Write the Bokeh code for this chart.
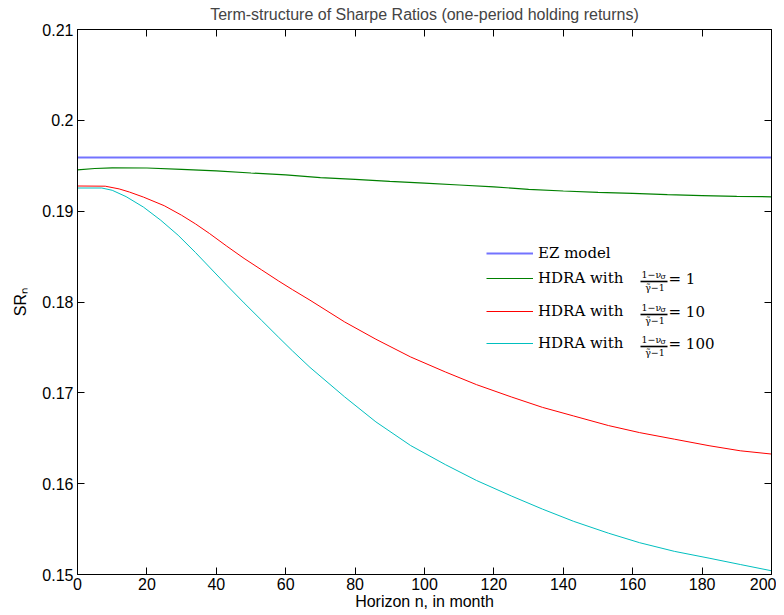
from bokeh.plotting import figure
from bokeh.models import (LinearAxis, FixedTicker, NumeralTickFormatter, Legend,
                          LegendItem, Label, BoxAnnotation, Range1d)
from bokeh.embed import file_html
from bokeh.resources import INLINE

# ---------------- data ----------------
title_text = "Term-structure of Sharpe Ratios (one-period holding returns)"
x_label = "Horizon n, in month"
y_label = "SR\u2099"
x_ticks = [0, 20, 40, 60, 80, 100, 120, 140, 160, 180, 200]
y_ticks = [0.15, 0.16, 0.17, 0.18, 0.19, 0.20, 0.21]

ez_n = [0, 200]
ez_sr = [0.1959, 0.1959]

hdra1_n = [0, 5, 10, 20, 30, 40, 50, 60, 70, 80, 90, 100, 110, 120, 130,
           140, 150, 160, 170, 180, 190, 200]
hdra1_sr = [0.19455, 0.19470, 0.19476, 0.19475, 0.19460, 0.19444, 0.19420,
            0.19400, 0.19370, 0.19350, 0.19328, 0.19308, 0.19288, 0.19268,
            0.19240, 0.19222, 0.19207, 0.19195, 0.19182, 0.19172, 0.19163,
            0.19158]

hdra10_n = [0, 8, 12, 15, 19, 25, 30, 34, 38, 43, 48, 53, 58, 62, 67, 77, 86,
            96, 106, 115, 125, 134, 143, 153, 162, 172, 182, 191, 200]
hdra10_sr = [0.19277, 0.19275, 0.19245, 0.19210, 0.19155, 0.19060, 0.18955,
             0.18860, 0.18755, 0.18615, 0.18480, 0.18355, 0.18230, 0.18135,
             0.18020, 0.17780, 0.17590, 0.17395, 0.17230, 0.17090, 0.16955,
             0.16840, 0.16745, 0.16640, 0.16562, 0.16490, 0.16418, 0.16362,
             0.16326]

hdra100_n = [0, 7, 10, 14, 19, 24, 29, 34, 38, 43, 48, 53, 58, 62, 67, 77, 86,
             96, 106, 115, 125, 134, 143, 153, 162, 172, 182, 191, 200]
hdra100_sr = [0.19255, 0.19255, 0.19230, 0.19160, 0.19045, 0.18900, 0.18735,
              0.18545, 0.18385, 0.18185, 0.17990, 0.17800, 0.17610, 0.17460,
              0.17280, 0.16955, 0.16680, 0.16420, 0.16210, 0.16035, 0.15865,
              0.15720, 0.15585, 0.15455, 0.15350, 0.15255, 0.15180, 0.15110,
              0.15041]

legend_labels = ["EZ model", "HDRA with", "HDRA with", "HDRA with"]
legend_values = ["= 1", "= 10", "= 100"]

# ---------------- layout ----------------
FRAME_W, FRAME_H = 694, 545
BORDER_L, BORDER_T, BORDER_B = 77, 29, 40
X0, X1 = 0, 200
Y0, Y1 = 0.15, 0.21

sans = "Liberation Sans"
serif = "DejaVu Serif"

p = figure(frame_width=FRAME_W, frame_height=FRAME_H,
           x_range=Range1d(X0, X1), y_range=Range1d(Y0, Y1),
           output_backend="svg", toolbar_location=None,
           min_border_left=BORDER_L, min_border_right=5,
           min_border_top=BORDER_T, min_border_bottom=BORDER_B,
           title=title_text, background_fill_color="white",
           border_fill_color="white", outline_line_color="black")

p.title.align = "center"
p.title.vertical_align = "top"
p.title.text_font = sans
p.title.text_font_style = "normal"
p.title.text_font_size = "16px"
p.title.standoff = 9
p.title.offset = 0

p.xgrid.visible = False
p.ygrid.visible = False

for ax in [p.xaxis[0], p.yaxis[0]]:
    ax.major_tick_in = 7
    ax.major_tick_out = 0
    ax.minor_tick_in = 0
    ax.minor_tick_out = 0
    ax.axis_line_color = "black"
    ax.major_tick_line_color = "black"
    ax.major_label_text_font = sans
    ax.major_label_text_font_size = "16px"
    ax.major_label_text_color = "black"
    ax.axis_label_text_font = sans
    ax.axis_label_text_font_size = "16px"
    ax.axis_label_text_font_style = "normal"
    ax.axis_label_text_color = "black"

p.xaxis[0].ticker = FixedTicker(ticks=x_ticks)
p.yaxis[0].ticker = FixedTicker(ticks=y_ticks)
p.yaxis[0].formatter = NumeralTickFormatter(format="0.[00]")
p.xaxis[0].axis_label = x_label
p.yaxis[0].axis_label = y_label
p.xaxis[0].major_label_standoff = 3
p.xaxis[0].axis_label_standoff = 0
p.yaxis[0].major_label_standoff = 4
p.yaxis[0].axis_label_standoff = 10

for side, ticks in [("right", y_ticks), ("above", x_ticks)]:
    ax = LinearAxis(ticker=FixedTicker(ticks=ticks), major_tick_in=7,
                    major_tick_out=0, minor_tick_in=0, minor_tick_out=0,
                    major_label_text_font_size="0px",
                    major_label_text_color=None, major_label_standoff=0,
                    axis_line_color="black", major_tick_line_color="black")
    p.add_layout(ax, side)

r_ez = p.line(ez_n, ez_sr, line_color="#0000ff", line_alpha=0.55, line_width=2)
r_1 = p.line(hdra1_n, hdra1_sr, line_color="#008000", line_width=1.2)
r_10 = p.line(hdra10_n, hdra10_sr, line_color="#ff0000", line_width=1)
r_100 = p.line(hdra100_n, hdra100_sr, line_color="#00bfbf", line_width=1)

# ---------------- legend (no box, MATLAB style) ----------------
# row centres measured from frame top, in pixels
row_centres = [224, 249, 282, 314]
LEG_X = 409
renderers = [r_ez, r_1, r_10, r_100]
for lab, rend, rc in zip(legend_labels, renderers, row_centres):
    leg = Legend(items=[LegendItem(label=lab, renderers=[rend])],
                 location=(LEG_X, FRAME_H - rc - 10), padding=0, margin=0,
                 spacing=0, glyph_width=47, glyph_height=20, label_height=20,
                 label_standoff=5, border_line_color=None,
                 background_fill_alpha=0, label_text_font=serif,
                 label_text_font_size="15px", label_text_color="black")
    p.add_layout(leg)


def fx(px):  # frame px (from left) -> data x
    return X0 + px / FRAME_W * (X1 - X0)


def fy(py):  # frame px (from top) -> data y
    return Y1 - py / FRAME_H * (Y1 - Y0)


FR_L = 563   # fraction bar left (frame px)
FR_R = 590
for rc, val in zip(row_centres[1:], legend_values):
    bar_y = rc + 3
    p.add_layout(BoxAnnotation(left=fx(FR_L), right=fx(FR_R),
                               top=fy(bar_y - 0.8), bottom=fy(bar_y + 0.8),
                               fill_color="black", fill_alpha=1,
                               line_color=None, level="overlay"))
    p.add_layout(Label(x=fx(FR_L + 1), y=fy(bar_y - 7), text="1\u2212\u03bd",
                       text_font=serif, text_font_size="9.5px",
                       text_baseline="middle", text_align="left",
                       text_color="black"))
    p.add_layout(Label(x=fx(FR_L + 20), y=fy(bar_y - 5), text="\u03c3",
                       text_font=serif, text_font_size="8px",
                       text_baseline="middle", text_align="left",
                       text_color="black"))
    p.add_layout(Label(x=fx((FR_L + FR_R) / 2 + 1), y=fy(bar_y + 6),
                       text="\u03b3\u0303\u22121",
                       text_font=serif, text_font_size="9.5px",
                       text_baseline="middle", text_align="center",
                       text_color="black"))
    p.add_layout(Label(x=fx(FR_R + 1), y=fy(rc), text=val,
                       text_font=serif, text_font_size="15px",
                       text_baseline="middle", text_align="left",
                       text_color="black"))

open("out.html", "w").write(file_html(p, INLINE))
